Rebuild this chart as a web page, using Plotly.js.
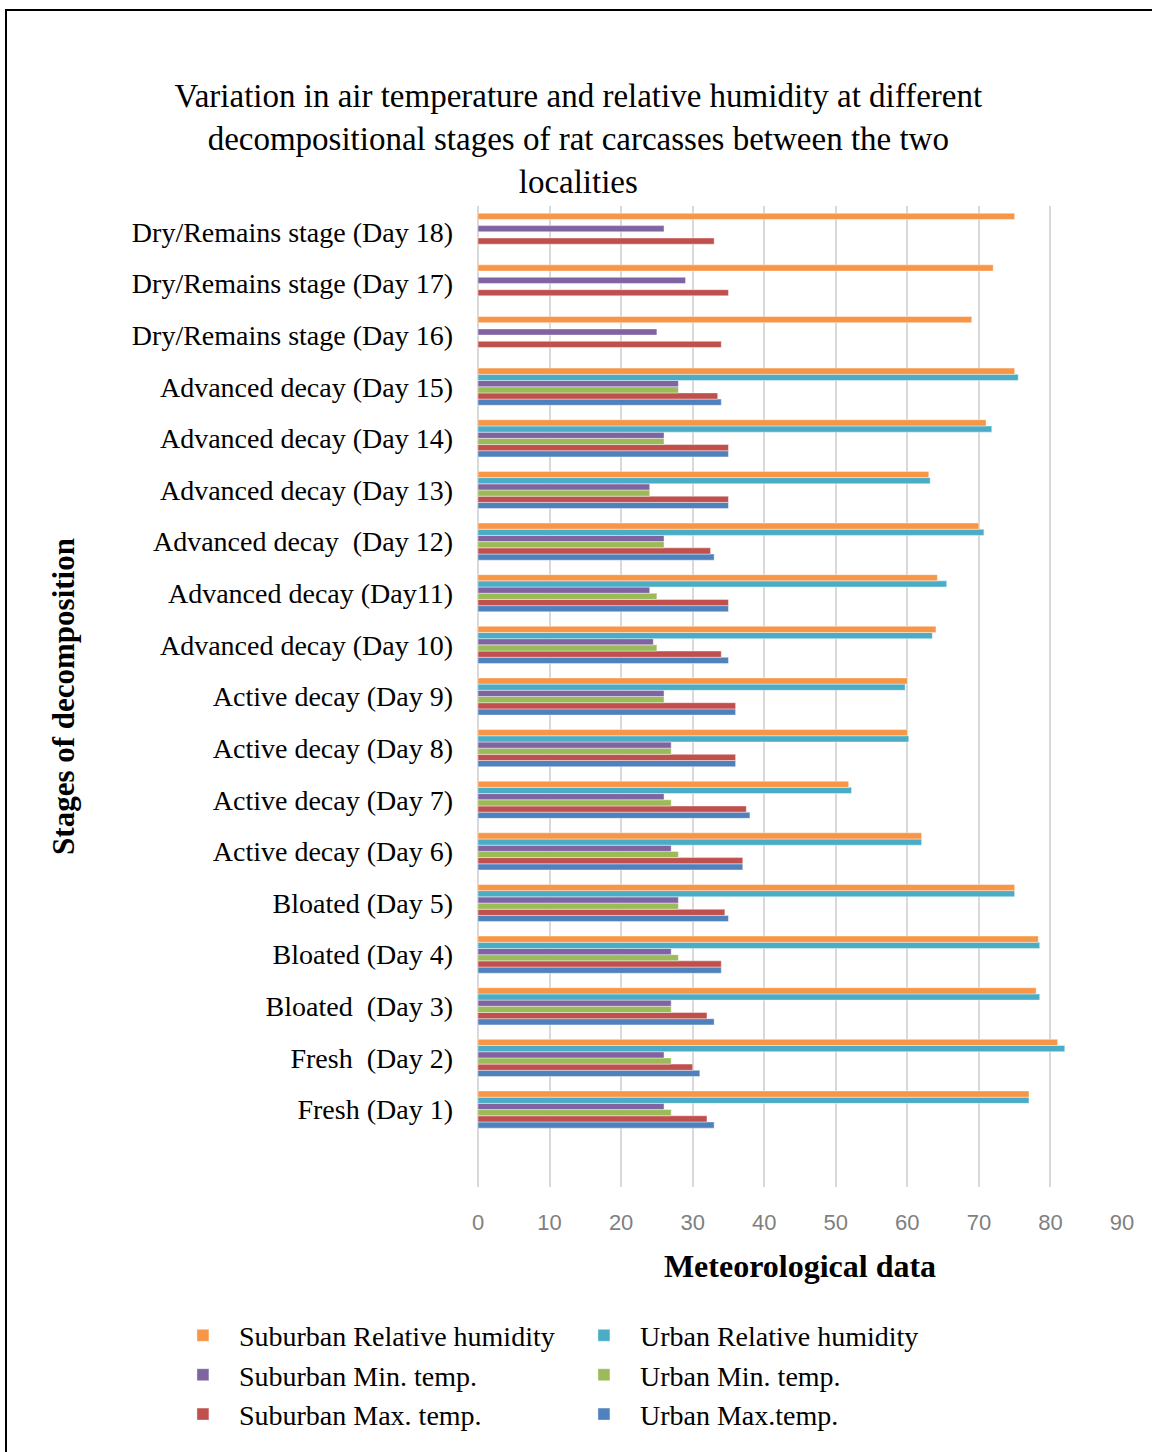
<!DOCTYPE html>
<html>
<head>
<meta charset="utf-8">
<script src="https://cdn.plot.ly/plotly-3.0.1.min.js"></script>
<style>
  html, body { margin: 0; padding: 0; background: #fff; }
  #wrap { position: relative; width: 1152px; height: 1452px; overflow: hidden; }
  #chart { position: absolute; left: 0; top: 0; width: 1152px; height: 1452px; }
  #frame { position: absolute; left: 5px; top: 9px; width: 1200px; height: 1500px;
           border-left: 2px solid #000; border-top: 2px solid #000; pointer-events: none; }
</style>
</head>
<body>
<div id="wrap">
  <div id="chart"></div>
  <div id="frame"></div>
</div>
<script>
// Decomposition stages, listed from the first day to the last
const stages = [
  "Fresh (Day 1)",
  "Fresh \u00a0(Day 2)",
  "Bloated \u00a0(Day 3)",
  "Bloated (Day 4)",
  "Bloated (Day 5)",
  "Active decay (Day 6)",
  "Active decay (Day 7)",
  "Active decay (Day 8)",
  "Active decay (Day 9)",
  "Advanced decay (Day 10)",
  "Advanced decay (Day11)",
  "Advanced decay \u00a0(Day 12)",
  "Advanced decay (Day 13)",
  "Advanced decay (Day 14)",
  "Advanced decay (Day 15)",
  "Dry/Remains stage (Day 16)",
  "Dry/Remains stage (Day 17)",
  "Dry/Remains stage (Day 18)"
];

// Relative humidity (%)
const suburbanRH = [77, 81, 78, 78.3, 75, 62, 51.8, 60, 60, 64, 64.2, 70, 63, 71, 75, 69, 72, 75];
const urbanRH    = [77, 82, 78.5, 78.5, 75, 62, 52.2, 60.2, 59.7, 63.5, 65.5, 70.7, 63.2, 71.8, 75.5, null, null, null];

// Minimum temperature (°C)
const suburbanMin = [26, 26, 27, 27, 28, 27, 26, 27, 26, 24.5, 24, 26, 24, 26, 28, 25, 29, 26];
const urbanMin    = [27, 27, 27, 28, 28, 28, 27, 27, 26, 25, 25, 26, 24, 26, 28, null, null, null];

// Maximum temperature (°C)
const suburbanMax = [32, 30, 32, 34, 34.5, 37, 37.5, 36, 36, 34, 35, 32.5, 35, 35, 33.5, 34, 35, 33];
const urbanMax    = [33, 31, 33, 34, 35, 37, 38, 36, 36, 35, 35, 33, 35, 35, 34, null, null, null];

const xTicks = [0, 10, 20, 30, 40, 50, 60, 70, 80, 90];

// Traces are added bottom-up inside each group, so the humidity bars sit on top
const series = [
  { name: "Urban Max.temp.",            values: urbanMax,    color: "#4F81BD" },
  { name: "Suburban Max. temp.",        values: suburbanMax, color: "#C0504D" },
  { name: "Urban Min. temp.",           values: urbanMin,    color: "#9BBB59" },
  { name: "Suburban Min. temp.",        values: suburbanMin, color: "#8064A2" },
  { name: "Urban Relative humidity",    values: urbanRH,     color: "#4BACC6" },
  { name: "Suburban Relative humidity", values: suburbanRH,  color: "#F79646" }
];

const serif = "Liberation Serif, Times New Roman, serif";

const traces = series.map(s => ({
  type: "bar",
  orientation: "h",
  name: s.name,
  x: s.values,
  y: stages,
  marker: { color: s.color, line: { width: 0.6, color: "rgba(255,255,255,0.7)" } },
  hoverinfo: "x+y+name"
}));

const layout = {
  width: 1152,
  height: 1452,
  paper_bgcolor: "#fff",
  plot_bgcolor: "#fff",
  barmode: "group",
  bargap: 0.28,
  bargroupgap: 0,
  margin: { l: 478, r: 30, t: 206, b: 265 },
  title: {
    text: "Variation in air temperature and relative humidity at different<br>decompositional stages of rat carcasses between the two<br>localities",
    font: { family: serif, size: 33, color: "#000" },
    x: 0.502, xanchor: "center", xref: "container",
    y: 0.9263, yanchor: "top", yref: "container"
  },
  xaxis: {
    range: [0, 90],
    tickvals: xTicks,
    ticktext: xTicks.map(String),
    showgrid: true,
    gridcolor: "#d9d9d9",
    gridwidth: 2,
    zeroline: true,
    zerolinecolor: "#d9d9d9",
    zerolinewidth: 2,
    showline: false,
    ticks: "",
    ticklabelstandoff: 20,
    tickfont: { family: "Liberation Sans, Arial, sans-serif", size: 22, color: "#7f7f7f" },
    title: {
      text: "<b>Meteorological data</b>",
      font: { family: serif, size: 32, color: "#000" },
      standoff: 20
    },
    fixedrange: true
  },
  yaxis: {
    type: "category",
    categoryorder: "array",
    categoryarray: stages,
    range: [-1.5, stages.length - 0.5],
    showgrid: false,
    zeroline: false,
    showline: false,
    ticks: "",
    ticklabelstandoff: 24,
    tickfont: { family: serif, size: 28, color: "#000" },
    title: {
      text: "<b>Stages of decomposition</b>",
      font: { family: serif, size: 31, color: "#000" },
      standoff: 48
    },
    fixedrange: true
  },
  showlegend: true,
  legend: {
    orientation: "h",
    traceorder: "reversed",
    x: -0.483, xanchor: "left",
    y: -0.126, yanchor: "top",
    itemwidth: 62,
    entrywidth: 324,
    entrywidthmode: "pixels",
    font: { family: serif, size: 28, color: "#000" },
    bgcolor: "rgba(0,0,0,0)"
  }
};

Plotly.newPlot("chart", traces, layout, { displayModeBar: false, staticPlot: true });
</script>
</body>
</html>
